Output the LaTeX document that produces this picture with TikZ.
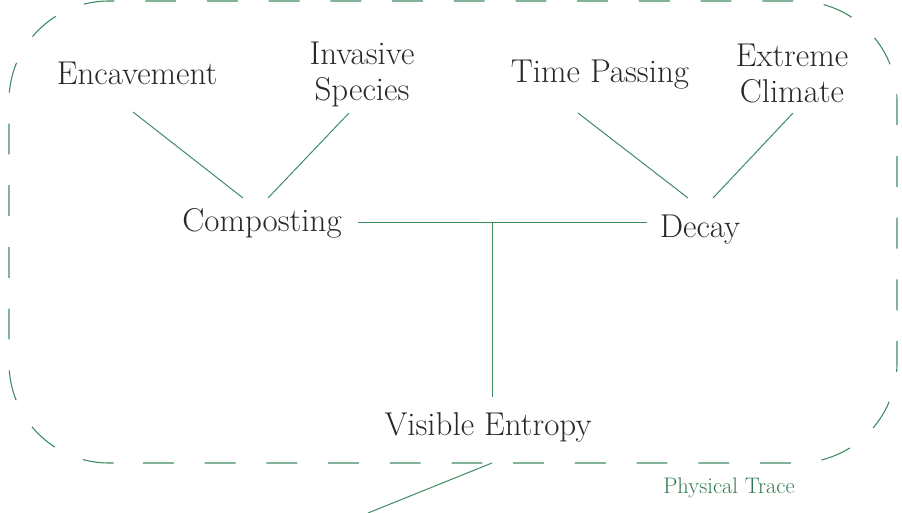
\documentclass[tikz,border=0pt]{standalone}
\usetikzlibrary{calc}
\definecolor{lg}{RGB}{62,140,98}
\definecolor{tg}{RGB}{46,122,80}
\definecolor{tx}{RGB}{40,40,40}
\begin{document}
\begin{tikzpicture}[x=1pt,y=-1pt,
  lbl/.style={inner sep=0pt, text=tx, font=\fontsize{33}{36}\selectfont, align=center},
  conn/.style={draw=lg, line width=1pt},
  frame/.style={draw=lg, line width=1.1pt, dash pattern=on 30.85pt off 30.85pt, rounded corners=100pt}]
\useasboundingbox (0,0) rectangle (902,513);
% frame
\draw[frame] (143,463) -- (897,463) -- (897,1) -- (9,1) -- (9,463) -- (143,463);
% nodes
\node[lbl, anchor=base] (enc) at (137,85) {Encavement};
\node[lbl] (inv) at (362,74) {Invasive\\Species};
\node[lbl, anchor=base] (comp) at (262,232) {Composting};
\node[lbl, anchor=base] (tp) at (600,83) {Time Passing};
\node[lbl] (ec) at (792,74) {Extreme\\Climate};
\node[lbl, anchor=base] (dec) at (700,237) {Decay};
\node[lbl, anchor=base] (ve) at (488,435) {Visible Entropy};
\node[inner sep=0pt, text=tg, font=\fontsize{22.5}{26}\selectfont, anchor=base] (pt) at (729,493) {Physical Trace};
% connectors
\draw[conn] ($(enc.base)+(-4,27)$) -- ($(comp.base)+(-19,-34)$);
\draw[conn] ($(inv.center)+(-13,39)$) -- ($(comp.base)+(6,-34)$);
\draw[conn] ($(tp.base)+(-22,30)$) -- ($(dec.base)+(-12,-39)$);
\draw[conn] ($(ec.center)+(1,39)$) -- ($(dec.base)+(13,-39)$);
\coordinate (hl) at ($(comp.base)+(96,-9)$);
\coordinate (hr) at ($(dec.base)+(-53,-14)$);
\draw[conn] (hl) -- (hr);
\coordinate (j) at ($(ve.base)+(4,-212)$);
\draw[conn] (j) -- ($(ve.base)+(4,-38)$);
\coordinate (bs) at (492,463);
\coordinate (be) at (368,513);
\draw[conn] (bs) -- (be);
\end{tikzpicture}
\end{document}
